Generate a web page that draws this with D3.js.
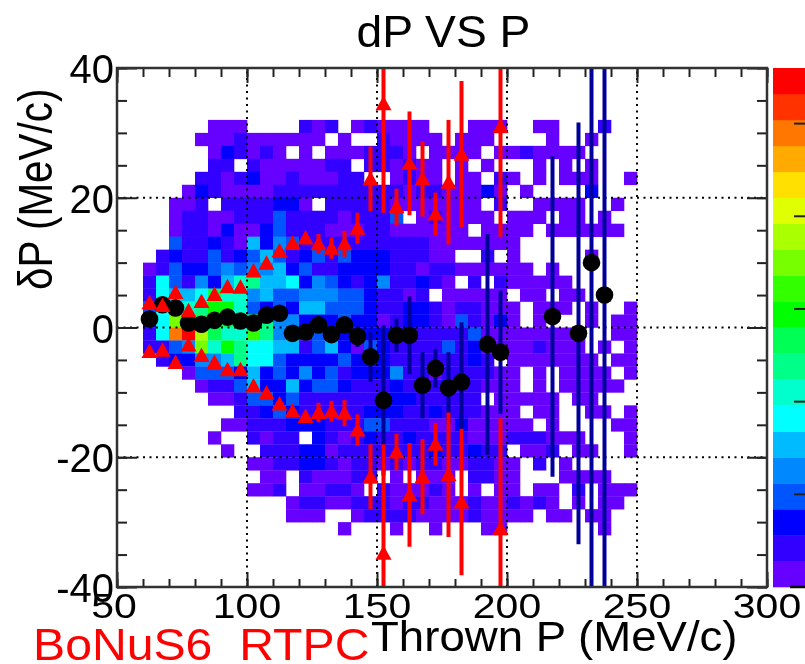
<!DOCTYPE html>
<html>
<head>
<meta charset="utf-8">
<script src="https://cdn.jsdelivr.net/npm/d3@7"></script>
<style>
html, body { margin: 0; padding: 0; background: #fff; overflow: hidden; }
text { font-family: "Liberation Sans", Arial, sans-serif; }
</style>
</head>
<body>
<script>
// histogram cells: one string per row from dP=32 down to dP=-32, one character per P bin
// starting at P=60, character is the colour level (base 36, 0 = empty)
var heatRows = [
  "00000111000021201211110001110011000200",
  "00001112111111010021111011100001001000",
  "00000132121010111222101111011211110000",
  "00000220211111220221211010100010101000",
  "00002212311211122001211011021010111001",
  "00013211112222222222122111310100003000",
  "00112022223310222221111111020011110010",
  "00122112224222212224012111101110110100",
  "00122131134222111221111110111101111110",
  "00422321635422222222221111111000000000",
  "02322423464234243332221100201000001000",
  "12433454556342233332212211111101000000",
  "27425368966735432352232102021111100000",
  "27667a88564455544322120111110110110000",
  "47889bb8434366444322332122111011101001",
  "37d9aba8b95533343312332142131010001011",
  "27ikea88c95524233332322224111111110011",
  "2245d8b9776624631432222423111121110101",
  "02335569774333343332222223201111111011",
  "00014443634353423335221222211010111101",
  "00001224633634432223232322111010111110",
  "00000112443422222223322222011111011000",
  "00000002234322222333223222111011001101",
  "00000011222333222442221131111101000011",
  "00000100212203212322322221112221110001",
  "00000010022233122222223223220112011001",
  "00000000112233212212122112211020100000",
  "00000000011021112201011102211000111100",
  "00000000112011221021112101011011020111",
  "00000000000122112221221112112121010110",
  "00000000000111001222211112111101101100",
  "00000000000000010001001000110000000100"
];
var firstBinP = 60;
var binW = 5;
var topRowDP = 32;
var binH = 2;

// ROOT rainbow palette, lowest level first
var palette = ["#6600ff","#3300ff","#0000ff","#0055ff","#0088ff","#00bbff","#00ffff","#00ffcc","#00ff88","#00ff55",
               "#00ff00","#33ff00","#77ff00","#aaff00","#e0ff00","#ffe000","#ffaa00","#ff7700","#ff3300","#ff0000"];

// black points: mean of dP per P bin
var meanP   = [62.5,67.5,72.5,77.5,82.5,87.5,92.5,97.5,102.5,107.5,112.5,117.5,122.5,127.5,132.5,137.5,142.5,147.5,152.5,157.5,162.5,167.5,172.5,177.5,182.5,192.5,197.5,217.5,227.5,232.5,237.5];
var meanDP  = [1.3,3.5,3.0,0.7,0.5,1.1,1.6,1.0,0.7,1.9,2.2,-0.9,-0.7,0.4,-1.1,0.4,-1.4,-4.5,-11.2,-1.2,-1.2,-8.9,-6.3,-9.3,-8.4,-2.6,-3.8,1.7,-0.9,10.0,5.0];
var meanErr = [0.2,0.2,0.2,0.2,0.2,0.2,0.2,0.3,0.3,0.3,0.4,0.4,0.5,0.5,0.6,0.8,1.6,3.9,11.6,2.6,6.0,5.1,3.0,5.5,9.2,17.0,9.5,24.7,32.5,60,60];

// red triangles: mean +/- sigma per P bin
var sigmaP   = [62.5,67.5,72.5,77.5,82.5,87.5,92.5,97.5,102.5,107.5,112.5,117.5,122.5,127.5,132.5,137.5,142.5,147.5,152.5,157.5,162.5,167.5,172.5,177.5,182.5,197.5];
var sigmaUp  = [3.8,3.4,5.4,2.6,4.0,5.1,6.3,6.2,8.7,9.9,11.8,13.0,13.8,12.9,12.2,12.9,15.3,22.9,34.5,18.6,25.3,22.9,17.5,22.4,26.7,31.0];
var sigmaLow = [-3.7,-3.5,-5.4,-2.7,-4.3,-5.4,-6.5,-6.5,-9.0,-10.1,-11.8,-12.9,-13.7,-13.1,-12.9,-13.2,-15.8,-23.0,-34.8,-19.2,-25.8,-23.0,-18.0,-22.7,-26.9,-31.0];
var sigmaErr = [0.2,0.2,0.2,0.2,0.2,0.2,0.2,0.2,0.2,0.3,0.3,0.3,0.4,1.5,1.6,2.0,2.4,5.0,16.8,2.8,8.0,5.8,3.3,9.6,11.3,17.0];

var xMajor = [50,100,150,200,250,300];
var yMajor = [-40,-20,0,20,40];
var barTicks = [5,10,15,20,25];

var titleText = "dP VS P";
var xTitle = "Thrown P (MeV/c)";
var yTitle = "\u03B4P (MeV/c)";
var tagText = "BoNuS6  RTPC";

var w = 805, h = 664;
var fLeft = 117, fRight = 767, fTop = 68, fBottom = 587;

var x = d3.scaleLinear().domain([50,300]).range([fLeft,fRight]);
var y = d3.scaleLinear().domain([-40,40]).range([fBottom,fTop]);

var svg = d3.select("body").append("svg")
  .attr("width", w)
  .attr("height", h);

// the reference is a scaled up bitmap, slightly soft
var defs = svg.append("defs");
defs.append("filter").attr("id","soft")
  .append("feGaussianBlur").attr("stdDeviation",0.55);
defs.append("clipPath").attr("id","frame")
  .append("rect").attr("x",fLeft).attr("y",fTop).attr("width",fRight-fLeft).attr("height",fBottom-fTop);

var root = svg.append("g").attr("filter","url(#soft)");

// cells
var cells = [];
heatRows.forEach(function(row, r){
  row.split("").forEach(function(c, k){
    var level = parseInt(c, 36);
    if(level > 0) cells.push({p: firstBinP + k*binW, dp: topRowDP - r*binH, level: level});
  });
});
root.append("g").selectAll("rect")
  .data(cells)
  .enter().append("rect")
  .attr("x", function(d){ return x(d.p); })
  .attr("y", function(d){ return y(d.dp); })
  .attr("width", x(binW+50)-x(50)+0.3)
  .attr("height", y(0)-y(binH)+0.3)
  .attr("fill", function(d){ return palette[d.level-1]; });

// dotted grid
var grid = root.append("g").attr("stroke","#000").attr("stroke-width",2).attr("stroke-dasharray","2 4.5");
grid.selectAll("line.v").data(xMajor.slice(1,-1)).enter().append("line")
  .attr("class","v")
  .attr("x1",function(d){ return x(d); }).attr("x2",function(d){ return x(d); })
  .attr("y1",fBottom).attr("y2",fTop);
grid.selectAll("line.h").data(yMajor.slice(1,-1)).enter().append("line")
  .attr("class","h")
  .attr("x1",fLeft).attr("x2",fRight)
  .attr("y1",function(d){ return y(d); }).attr("y2",function(d){ return y(d); });

// marks, clipped by the frame
var marks = root.append("g").attr("clip-path","url(#frame)");

marks.selectAll("line.mean").data(meanP).enter().append("line")
  .attr("class","mean")
  .attr("x1",function(d){ return x(d); }).attr("x2",function(d){ return x(d); })
  .attr("y1",function(d,i){ return y(meanDP[i]+meanErr[i]); })
  .attr("y2",function(d,i){ return y(meanDP[i]-meanErr[i]); })
  .attr("stroke","#000099").attr("stroke-width",4);

marks.selectAll("circle").data(meanP).enter().append("circle")
  .attr("cx",function(d){ return x(d); })
  .attr("cy",function(d,i){ return y(meanDP[i]); })
  .attr("r",8.8)
  .attr("fill","#000");

[sigmaUp, sigmaLow].forEach(function(vals, n){
  marks.selectAll("line.sig"+n).data(sigmaP).enter().append("line")
    .attr("class","sig"+n)
    .attr("x1",function(d){ return x(d); }).attr("x2",function(d){ return x(d); })
    .attr("y1",function(d,i){ return y(vals[i]+sigmaErr[i]); })
    .attr("y2",function(d,i){ return y(vals[i]-sigmaErr[i]); })
    .attr("stroke","#ff0000").attr("stroke-width",4);

  marks.selectAll("path.tri"+n).data(sigmaP).enter().append("path")
    .attr("class","tri"+n)
    .attr("d","M0,-8L8,6.5L-8,6.5Z")
    .attr("transform",function(d,i){ return "translate("+x(d)+","+y(vals[i])+")"; })
    .attr("fill","#ff0000");
});

// axes, ticks point into the frame
function styleAxis(g){
  g.select(".domain").remove();
  g.selectAll("line").attr("stroke","#222").attr("stroke-width",2);
}
var xMinor = d3.range(50,301,10);
var yMinor = d3.range(-40,41,5);

root.append("g").attr("transform","translate(0,"+fBottom+")")
  .call(d3.axisBottom(x).tickValues(xMinor).tickSize(-8).tickFormat("")).call(styleAxis);
root.append("g").attr("transform","translate(0,"+fBottom+")")
  .call(d3.axisBottom(x).tickValues(xMajor).tickSize(-15).tickFormat("")).call(styleAxis);
root.append("g").attr("transform","translate(0,"+fTop+")")
  .call(d3.axisTop(x).tickValues(xMinor).tickSize(-9).tickFormat("")).call(styleAxis);
root.append("g").attr("transform","translate(0,"+fTop+")")
  .call(d3.axisTop(x).tickValues(xMajor).tickSize(-15).tickFormat("")).call(styleAxis);
root.append("g").attr("transform","translate("+fLeft+",0)")
  .call(d3.axisLeft(y).tickValues(yMinor).tickSize(-10).tickFormat("")).call(styleAxis);
root.append("g").attr("transform","translate("+fLeft+",0)")
  .call(d3.axisLeft(y).tickValues(yMajor).tickSize(-20).tickFormat("")).call(styleAxis);
root.append("g").attr("transform","translate("+fRight+",0)")
  .call(d3.axisRight(y).tickValues(yMinor).tickSize(-10).tickFormat("")).call(styleAxis);
root.append("g").attr("transform","translate("+fRight+",0)")
  .call(d3.axisRight(y).tickValues(yMajor).tickSize(-20).tickFormat("")).call(styleAxis);

root.append("rect")
  .attr("x",fLeft).attr("y",fTop).attr("width",fRight-fLeft).attr("height",fBottom-fTop)
  .attr("fill","none").attr("stroke","#333").attr("stroke-width",2.5);

// colour bar
var levels = d3.range(1,21);
var barY = d3.scaleBand().domain(levels.slice().reverse()).range([fTop,fBottom]);
var barAxis = d3.scaleLinear().domain([0,28]).range([fBottom,fTop]);
root.append("g").selectAll("rect").data(levels).enter().append("rect")
  .attr("x",773).attr("width",w-773)
  .attr("y",function(d){ return barY(d); })
  .attr("height",barY.bandwidth()+0.3)
  .attr("fill",function(d){ return palette[d-1]; });
root.append("g").selectAll("line").data(barTicks).enter().append("line")
  .attr("x1",794).attr("x2",w)
  .attr("y1",function(d){ return barAxis(d); })
  .attr("y2",function(d){ return barAxis(d); })
  .attr("stroke","#222").attr("stroke-width",2);
root.append("line")
  .attr("x1",790).attr("x2",w)
  .attr("y1",barAxis(0)).attr("y2",barAxis(0))
  .attr("stroke","#111").attr("stroke-width",2.5);

// tick labels, the x ones are squashed in the reference
root.selectAll("text.xl").data(xMajor).enter().append("text")
  .attr("class","xl")
  .attr("transform",function(d){ return "translate("+(x(d)-(d==50?3:0))+",618) scale(1,0.85)"; })
  .attr("text-anchor","middle")
  .attr("font-size",41)
  .attr("fill","#000")
  .text(function(d){ return d; });
root.selectAll("text.yl").data(yMajor).enter().append("text")
  .attr("class","yl")
  .attr("x",114)
  .attr("y",function(d){ return y(d)+15; })
  .attr("text-anchor","end")
  .attr("font-size",40)
  .attr("fill","#000")
  .text(function(d){ return d; });

// titles
root.append("text").attr("transform","translate(443.5,46.5) scale(1.05,1)").attr("text-anchor","middle")
  .attr("font-size",44).attr("fill","#000").text(titleText);
root.append("text").attr("transform","translate(52,290) rotate(-90) scale(0.842,1)")
  .attr("font-size",48).attr("fill","#000").text(yTitle);
root.append("text").attr("transform","translate(371,651) scale(1.086,1)")
  .attr("font-size",42).attr("fill","#000").text(xTitle);
root.append("text").attr("transform","translate(33,660) scale(1.095,1)")
  .attr("font-size",44).attr("fill","#ff0000").style("white-space","pre").text(tagText);
</script>
</body>
</html>
